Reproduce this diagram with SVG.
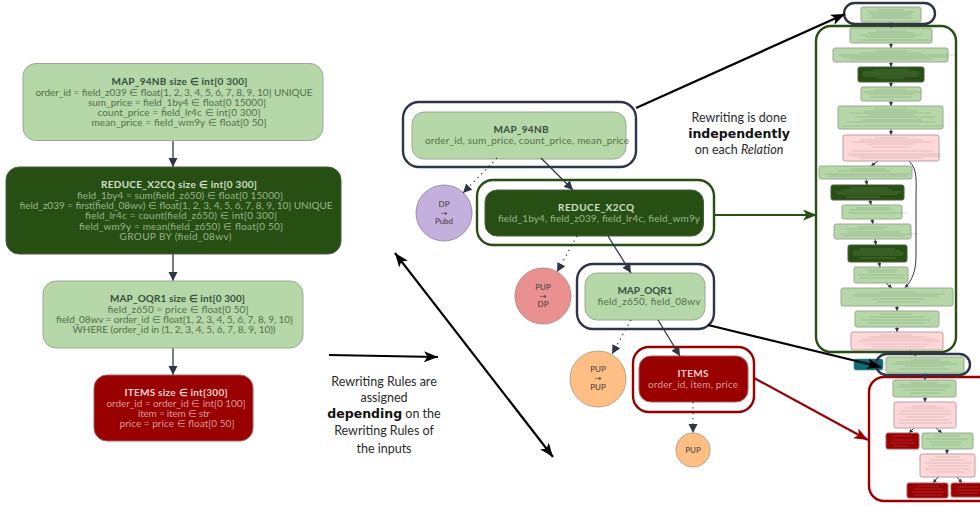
<svg xmlns="http://www.w3.org/2000/svg" width="980" height="505" viewBox="0 0 980 505">
<style>
text{font-family:Lato,"Liberation Sans",sans-serif;text-anchor:middle;font-size:10px}
.lg{fill:#b6d7a8;stroke:#9aa894;stroke-width:1}
.dg{fill:#274e13;stroke:#4a5f40;stroke-width:1}
.dr{fill:#990000;stroke:#a86060;stroke-width:1}
.pk{fill:#ffd9d9;stroke:#b8a0a0;stroke-width:1}
.tl{fill:#55704c}.hl{fill:#38503a;font-weight:700}
.td{fill:#9ab58d}.hd{fill:#d2e0cb;font-weight:700}
.tr{fill:#dc9a9a}.hr{fill:#f3d2d2;font-weight:700}
.note{font-size:12.500px;fill:#2a2a2a}.b{font-family:"DejaVu Sans",sans-serif;font-weight:700;font-size:12.500px;fill:#111}
.cir{font-size:8px;fill:#3c3c3c}
.arw{font-family:"DejaVu Sans",sans-serif}
.ring{fill:#fff;stroke-width:2.4}
.rb{fill:none;stroke-width:2.4}
.c{fill:none;stroke:#2f3548;stroke-width:1.2}
.m{stroke-width:1.3;marker-end:url(#a)}
.d{stroke-dasharray:1.3 4;marker-end:url(#a)}
.s{marker-end:url(#s);stroke-width:1}
.big{fill:none;stroke:#000;stroke-width:2.2}
.x{fill:none;stroke-width:.6;stroke-opacity:.35}
.xl{stroke:#3f5a38}.xd{stroke:#c9dcc0}.xr{stroke:#f0c0c0}.xp{stroke:#7a5a5a}
</style>
<defs>
<marker id="a" markerUnits="userSpaceOnUse" markerWidth="10" markerHeight="10" refX="9" refY="4.5" orient="auto"><path d="M0,0L9,4.5L0,9z" fill="#2f3548"/></marker>
<marker id="s" markerUnits="userSpaceOnUse" markerWidth="5" markerHeight="5" refX="4" refY="2" orient="auto"><path d="M0,0L4,2L0,4z" fill="#2f3548"/></marker>
<marker id="k" markerUnits="userSpaceOnUse" markerWidth="16" markerHeight="12" refX="14" refY="5.5" orient="auto-start-reverse"><path d="M0,0L14,5.5L0,11L3.5,5.5z" fill="#000"/></marker>
<marker id="g" markerUnits="userSpaceOnUse" markerWidth="16" markerHeight="12" refX="14" refY="5.5" orient="auto"><path d="M0,0L14,5.5L0,11L3.5,5.5z" fill="#274e13"/></marker>
<marker id="r" markerUnits="userSpaceOnUse" markerWidth="16" markerHeight="12" refX="14" refY="5.5" orient="auto"><path d="M0,0L14,5.5L0,11L3.5,5.5z" fill="#990000"/></marker>
</defs>

<g id="panels">
<rect class="rb" x="816" y="26" width="140" height="326" rx="15" stroke="#274e13"/>
<rect class="rb" x="869" y="377" width="125" height="124" rx="15" stroke="#990000"/>
</g>

<g id="connectors">
<path class="c m" d="M173 140V167"/>
<path class="c m" d="M173 254V281"/>
<path class="c m" d="M173 348V375"/>
<path class="c s" d="M891 22V28"/><path class="c s" d="M891 43V48"/><path class="c s" d="M891 62V67"/><path class="c s" d="M891 82V87"/><path class="c s" d="M891 101V106"/><path class="c s" d="M891 129V135"/>
<path class="c s" d="M878 161L871 166"/>
<path class="c s" d="M866 179L867 185"/><path class="c s" d="M870 200L871 205"/><path class="c s" d="M872 219L873 224"/><path class="c s" d="M875 239L876 245"/><path class="c s" d="M879 262L880 267"/><path class="c s" d="M886 283L892 288"/>
<path class="c s" d="M909 161C918 170 916 180 916 200V255C916 272 912 280 905 288"/>
<path class="c s" d="M897 306V311"/><path class="c s" d="M897 327V332"/>
<path class="c s" d="M910 350L916 356"/>
<path class="c s" d="M925 373V380"/><path class="c s" d="M925 397V402"/><path class="c s" d="M914 428L909 433"/><path class="c s" d="M936 428L942 433"/><path class="c s" d="M947 449V454"/><path class="c s" d="M938 477L933 483"/><path class="c s" d="M957 477L962 483"/>
</g>

<g id="node-left-map94"><rect class="lg" x="23" y="63.5" width="300" height="77" rx="13"/>
<text class="hl" x="179.500" y="85" textLength="136">MAP_94NB size ∈ int[0 300]</text>
<text class="tl" x="174" y="95.500" textLength="277">order_id = field_z039 ∈ float{1, 2, 3, 4, 5, 6, 7, 8, 9, 10} UNIQUE</text>
<text class="tl" x="177" y="105.500" textLength="178">sum_price = field_1by4 ∈ float[0 15000]</text>
<text class="tl" x="179" y="115.500" textLength="163">count_price = field_lr4c ∈ int[0 300]</text>
<text class="tl" x="179" y="126" textLength="175">mean_price = field_wm9y ∈ float[0 50]</text></g>

<g id="node-left-reduce"><rect class="dg" x="6" y="167" width="335" height="87" rx="13"/>
<text class="hd" x="179" y="188" textLength="156">REDUCE_X2CQ size ∈ int[0 300]</text>
<text class="td" x="180" y="198.500" textLength="206">field_1by4 = sum(field_z650) ∈ float[0 15000]</text>
<text class="td" x="176" y="209" textLength="313">field_z039 = first(field_08wv) ∈ float{1, 2, 3, 4, 5, 6, 7, 8, 9, 10} UNIQUE</text>
<text class="td" x="181" y="219" textLength="192">field_lr4c = count(field_z650) ∈ int[0 300]</text>
<text class="td" x="181" y="229.500" textLength="204">field_wm9y = mean(field_z650) ∈ float[0 50]</text>
<text class="td" x="175.500" y="239.500" textLength="112">GROUP BY (field_08wv)</text></g>

<g id="node-left-mapoqr"><rect class="lg" x="43" y="281" width="260" height="67" rx="13"/>
<text class="hl" x="177.500" y="302" textLength="135">MAP_OQR1 size ∈ int[0 300]</text>
<text class="tl" x="178" y="313" textLength="141">field_z650 = price ∈ float[0 50]</text>
<text class="tl" x="174.500" y="323" textLength="237">field_08wv = order_id ∈ float{1, 2, 3, 4, 5, 6, 7, 8, 9, 10}</text>
<text class="tl" x="174" y="333" textLength="203">WHERE (order_id in (1, 2, 3, 4, 5, 6, 7, 8, 9, 10))</text></g>

<g id="node-left-items"><rect class="dr" x="94" y="375" width="159" height="66" rx="13"/>
<text class="hr" x="176" y="396" textLength="103">ITEMS size ∈ int{300}</text>
<text class="tr" x="176" y="406.500" textLength="139">order_id = order_id ∈ int[0 100]</text>
<text class="tr" x="174" y="416.500" textLength="72">item = item ∈ str</text>
<text class="tr" x="177" y="426.500" textLength="115">price = price ∈ float[0 50]</text></g>

<g id="node-map94"><rect class="ring" x="403" y="102" width="233" height="65" rx="16" stroke="#2f3548"/><rect class="lg" x="412" y="112" width="214" height="47" rx="12"/>
<text class="hl" x="521" y="133" textLength="55">MAP_94NB</text>
<text class="tl" x="527" y="143.500" textLength="204">order_id, sum_price, count_price, mean_price</text></g>

<g id="node-reduce"><rect class="ring" x="477" y="180" width="237" height="65" rx="16" stroke="#274e13"/><rect class="dg" x="485" y="190" width="218.500" height="46" rx="12"/>
<text class="hd" x="596" y="211" textLength="76">REDUCE_X2CQ</text>
<text class="td" x="599" y="221.500" textLength="202">field_1by4, field_z039, field_lr4c, field_wm9y</text></g>

<g id="node-mapoqr"><rect class="ring" x="577" y="264" width="137" height="65" rx="16" stroke="#2f3548"/><rect class="lg" x="585" y="273" width="120" height="47" rx="12"/>
<text class="hl" x="645" y="294" textLength="55">MAP_OQR1</text>
<text class="tl" x="649" y="304.500" textLength="103">field_z650, field_08wv</text></g>

<g id="node-items"><rect class="ring" x="633" y="347" width="121" height="65" rx="16" stroke="#990000"/><rect class="dr" x="639" y="356" width="109" height="46" rx="12"/>
<text class="hr" x="693" y="377" textLength="31">ITEMS</text>
<text class="tr" x="693" y="387.500" textLength="90">order_id, item, price</text></g>

<g id="node-dp-pubd"><circle cx="444" cy="213" r="28" fill="#c4b0dd" stroke="#9c8fae"/>
<text class="cir" x="444" y="207">DP</text><text class="cir arw" x="444" y="216">→</text><text class="cir" x="444" y="224">Pubd</text></g>
<g id="node-pup-dp"><circle cx="543" cy="296" r="28" fill="#ea9090" stroke="#b88"/>
<text class="cir" x="543" y="290">PUP</text><text class="cir arw" x="543" y="298.500">→</text><text class="cir" x="543" y="307">DP</text></g>
<g id="node-pup-pup"><circle cx="598" cy="379" r="28" fill="#ffbe84" stroke="#b9a088"/>
<text class="cir" x="598" y="372">PUP</text><text class="cir arw" x="598" y="381">→</text><text class="cir" x="598" y="390">PUP</text></g>
<g id="node-pup"><circle cx="693" cy="450" r="17" fill="#ffbe84" stroke="#b9a088"/>
<text class="cir" x="693" y="453">PUP</text></g>

<g id="node-links">
<path class="c m" d="M541 158L573 190"/>
<path class="c d" d="M497 158L463 193"/>
<path class="c m" d="M608 236L631 273"/>
<path class="c d" d="M577 236L557 272"/>
<path class="c m" d="M658 320L680 356"/>
<path class="c d" d="M631 320L612 354"/>
<path class="c d" d="M693 402V433"/>
</g>

<g id="mini-nodes">
<g id="m1"><rect class="lg" x="861" y="7" width="60" height="15" rx="2"/><path class="x xl" d="M878 10H904M868 12H914M870 14H912M872 16H910M869 18H913"/></g>
<g id="m2"><rect class="lg" x="850" y="28" width="82" height="15" rx="2"/><path class="x xl" d="M876 31H906M868 33H914M860 35H922M866 37H916M859 40H932"/></g>
<g id="m3"><rect class="lg" x="833" y="48" width="115" height="14" rx="2"/><path class="x xl" d="M875 51H907M860 53H922M838 55H955M842 57H948M850 59H932"/></g>
<g id="m4"><rect class="dg" x="858" y="67" width="66" height="15" rx="2"/><path class="x xd" d="M873 70H909M863 72H919M862 74H921M864 76H918M878 78H904"/></g>
<g id="m5"><rect class="lg" x="861" y="87" width="60" height="14" rx="2"/><path class="x xl" d="M875 90H907M864 92H922M868 94H914M871 97H911"/></g>
<g id="m6"><rect class="lg" x="838" y="106" width="105" height="23" rx="2"/><path class="x xl" d="M875 109H907M864 111H918M850 113H930M868 115H914M855 117H935M860 120H922M846 122H936M842 126H944"/></g>
<g id="m7"><rect class="pk" x="843" y="135" width="96" height="26" rx="2"/><path class="x xp" d="M875 138H907M860 140H922M850 142H932M868 144H914M872 147H910M852 151H934M848 154H940M850 156H942M860 158H922"/></g>
<g id="m8"><rect class="lg" x="819" y="166" width="93" height="13" rx="2"/><path class="x xl" d="M850 169H885M838 171H890M825 174H910M828 176H908"/></g>
<g id="m9"><rect class="dg" x="831" y="185" width="73" height="15" rx="2"/><path class="x xd" d="M850 188H888M842 190H892M836 192H902M838 194H898M846 197H880"/></g>
<g id="m10"><rect class="lg" x="842" y="205" width="60" height="14" rx="2"/><path class="x xl" d="M856 208H890M850 210H892M848 213H908"/></g>
<g id="m11"><rect class="lg" x="834" y="224" width="77" height="15" rx="2"/><path class="x xl" d="M858 227H888M846 229H884M848 232H900M840 234H918M842 236H905"/></g>
<g id="m12"><rect class="dg" x="848" y="245" width="59" height="17" rx="2"/><path class="x xd" d="M860 249H895M854 251H900M852 253H904M854 255H902M860 258H896"/></g>
<g id="m13"><rect class="lg" x="854" y="267" width="54" height="16" rx="2"/><path class="x xl" d="M866 270H898M868 272H896M858 275H906M860 278H904"/></g>
<g id="m14"><rect class="lg" x="841" y="288" width="112" height="18" rx="2"/><path class="x xl" d="M880 292H915M855 294H945M852 296H938M872 299H925M878 302H920"/></g>
<g id="m15"><rect class="lg" x="855" y="311" width="84" height="16" rx="2"/><path class="x xl" d="M880 314H912M870 317H925M862 320H930M868 323H925"/></g>
<g id="m16"><rect class="pk" x="851" y="332" width="92" height="18" rx="2"/><path class="x xp" d="M880 335H912M868 337H925M862 339H935M858 341H940M865 344H930M872 347H925"/></g>

<g id="m17"><rect x="854" y="359" width="29" height="11" rx="2" fill="#0b6a75" stroke="#5a8a90" stroke-width=".6"/></g>
<g id="m18"><rect class="lg" x="886" y="357" width="78" height="16" rx="2"/><path class="x xl" d="M910 360H940M896 362H950M892 364H958M905 366H945M898 369H950"/></g>

<g id="m19"><rect class="lg" x="893" y="380" width="63" height="17" rx="2"/><path class="x xl" d="M910 383H938M900 385H950M898 387H952M905 390H945M910 393H940"/></g>
<g id="m20"><rect class="pk" x="894" y="402" width="62" height="26" rx="2"/><path class="x xp" d="M912 406H938M905 408H945M900 411H950M898 414H952M905 417H945M900 420H950M898 423H952"/></g>
<g id="m21"><rect class="dr" x="886" y="433" width="33" height="16" rx="2"/><path class="x xr" d="M893 436H912M892 440H913M890 443H915M893 446H910"/></g>
<g id="m22"><rect class="lg" x="922" y="433" width="51" height="16" rx="2"/><path class="x xl" d="M935 436H960M926 439H968M930 442H962M932 445H960"/></g>
<g id="m23"><rect class="pk" x="920" y="454" width="55" height="23" rx="2"/><path class="x xp" d="M935 457H960M930 460H965M924 463H972M928 466H968M925 469H970M930 472H965"/></g>
<g id="m24"><rect class="dr" x="907" y="483" width="41" height="15" rx="2"/><path class="x xr" d="M918 486H938M914 489H942M912 492H944M914 495H942"/></g>
<g id="m25"><rect class="dr" x="951" y="483" width="32" height="14" rx="2"/><path class="x xr" d="M958 487H978M956 490H980M958 493H978"/></g>
</g>

<rect id="oval-top" class="rb" x="844" y="3" width="91" height="21" rx="10.500" stroke="#2f3548"/>
<rect id="oval-bottom" class="rb" x="876" y="354" width="94" height="21" rx="10.500" stroke="#2f3548"/>

<g id="big-arrows">
<path class="big" marker-end="url(#k)" d="M636 108L845 14"/>
<path class="big" marker-end="url(#k)" d="M329 355L438 357"/>
<path class="big" marker-start="url(#k)" marker-end="url(#k)" d="M395 253L553 457"/>
<path class="big" style="stroke:#274e13" marker-end="url(#g)" d="M714 215L817 215"/>
<path class="big" marker-end="url(#k)" d="M708 325L881 367"/>
<path class="big" style="stroke:#990000" marker-end="url(#r)" d="M754 378L868 440"/>
</g>

<g id="notes">
<text class="note" x="739" y="122">Rewriting is done</text>
<text class="b" x="739" y="138">independently</text>
<text class="note" x="739" y="154">on each <tspan font-style="italic">Relation</tspan></text>
<text class="note" x="384" y="386">Rewriting Rules are</text>
<text class="note" x="384" y="402">assigned</text>
<text class="note" x="384" y="418"><tspan class="b">depending</tspan> on the</text>
<text class="note" x="384" y="435">Rewriting Rules of</text>
<text class="note" x="384" y="453">the inputs</text>
</g>
</svg>
